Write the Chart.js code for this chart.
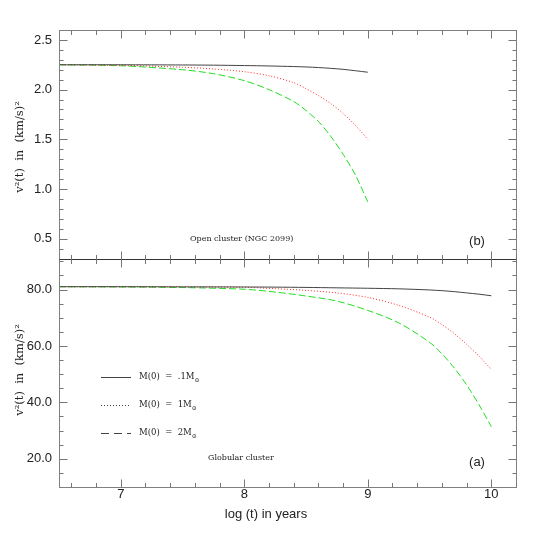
<!DOCTYPE html>
<html>
<head>
<meta charset="utf-8">
<script src="https://cdn.jsdelivr.net/npm/chart.js@4.4.1/dist/chart.umd.min.js"></script>
<style>
  html, body { margin: 0; padding: 0; background: #fff; }
</style>
</head>
<body>
<canvas id="chart" width="545" height="545"></canvas>
<script>
// log(t) values
const xOpen = [6.5, 7.0, 7.5, 7.75, 8.0, 8.2, 8.4, 8.5, 8.6, 8.7, 8.8, 8.9, 9.0];
const xGlob = [6.5, 7.0, 7.5, 8.0, 8.25, 8.5, 8.75, 9.0, 9.25, 9.5, 9.6, 9.7, 9.8, 9.9, 10.0];

// (b) open cluster NGC 2099, v^2 in (km/s)^2
const openM01 = [2.25, 2.25, 2.248, 2.246, 2.242, 2.238, 2.232, 2.228, 2.222, 2.214, 2.204, 2.19, 2.175];
const openM1  = [2.25, 2.245, 2.225, 2.208, 2.18, 2.14, 2.07, 2.01, 1.94, 1.86, 1.76, 1.64, 1.50];
const openM2  = [2.25, 2.24, 2.20, 2.16, 2.09, 2.00, 1.88, 1.79, 1.68, 1.53, 1.35, 1.14, 0.87];

// (a) globular cluster
const globM01 = [81.0, 81.0, 80.95, 80.9, 80.85, 80.75, 80.6, 80.45, 80.25, 79.85, 79.6, 79.25, 78.8, 78.35, 77.8];
const globM1  = [81.0, 81.0, 80.95, 80.8, 80.3, 79.7, 78.8, 77.2, 74.4, 70.2, 67.6, 64.4, 60.6, 56.4, 51.7];
const globM2  = [81.0, 80.9, 80.7, 80.1, 79.1, 77.7, 75.9, 72.6, 68.2, 61.3, 57.2, 52.2, 46.2, 39.2, 31.4];

const xTicks = [7, 8, 9, 10];
const openTicks = [0.5, 1.0, 1.5, 2.0, 2.5];
const globTicks = [20, 40, 60, 80];

const legendLabels = ['M(0)  =  .1M', 'M(0)  =  1M', 'M(0)  =  2M'];

const pts = (xs, ys) => xs.map((x, i) => ({ x: x, y: ys[i] }));

const solid = { borderColor: '#444', borderWidth: 1 };
const dotted = { borderColor: '#ff2a2a', borderWidth: 1, borderDash: [1, 2] };
const dashed = { borderColor: '#22dd22', borderWidth: 1, borderDash: [7, 3] };

const tickFont = { family: 'Liberation Sans', size: 13 };

// frame, inside ticks, and annotations
const framePlugin = {
    id: 'frame',
    afterDraw(chart) {
        const ctx = chart.ctx;
        const a = chart.chartArea;
        const xs = chart.scales.x;
        const yt = chart.scales.yOpen;
        const yb = chart.scales.yGlob;
        const L = Math.round(a.left) + 0.5, R = Math.round(a.right) + 0.5;
        const T = Math.round(a.top) + 0.5, B = Math.round(a.bottom) + 0.5;
        const M = Math.round(yt.bottom) + 0.5;

        ctx.save();
        ctx.lineWidth = 1;
        const line = (x1, y1, x2, y2) => {
            ctx.beginPath(); ctx.moveTo(x1, y1); ctx.lineTo(x2, y2); ctx.stroke();
        };

        ctx.strokeStyle = '#808080';
        ctx.strokeRect(L, T, R - L, B - T);
        ctx.strokeStyle = '#333';
        line(L, M, R, M);

        ctx.strokeStyle = '#777';
        // x ticks on every horizontal edge
        const edges = [[T, 1], [M, -1], [M, 1], [B, -1]];
        for (let k = 0; k <= 18; k++) {
            const v = 6.6 + k * 0.2;
            if (v > 10.21) break;
            const major = Math.abs(v - Math.round(v)) < 0.01;
            const len = major ? 8 : 4.5;
            const px = Math.round(xs.getPixelForValue(v)) + 0.5;
            edges.forEach(([y, d]) => line(px, y, px, y + d * len));
        }
        // y ticks on left and right edges
        const yTicks = (scale, step, top, bottom) => {
            const n = Math.round((scale.max - scale.min) / step);
            for (let k = 0; k <= n; k++) {
                const v = scale.min + k * step;
                const major = scale.ticks.some(t => Math.abs(t.value - v) < step / 10);
                const len = major ? 8 : 4;
                const py = Math.round(scale.getPixelForValue(v)) + 0.5;
                if (py <= top + 1 || py >= bottom - 1) continue;
                line(L, py, L + len, py);
                line(R, py, R - len, py);
            }
        };
        yTicks(yt, 0.1, T, M);
        yTicks(yb, 5, M, B);

        // y titles
        ctx.fillStyle = '#222';
        ctx.font = '11.5px "DejaVu Serif"';
        ctx.textAlign = 'center';
        ctx.textBaseline = 'middle';
        [147, 370].forEach(cy => {
            ctx.save();
            ctx.translate(20, cy);
            ctx.rotate(-Math.PI / 2);
            ctx.fillText('v\u00b2(t)  in  (km/s)\u00b2', 0, 0);
            ctx.restore();
        });

        // x title
        ctx.font = '13px "Liberation Sans"';
        ctx.fillText('log (t) in years', 266, 514);

        // panel letters
        ctx.fillText('(b)', 477, 241);
        ctx.fillText('(a)', 477, 462);

        // panel notes
        ctx.textAlign = 'left';
        ctx.font = '8px "DejaVu Serif"';
        ctx.fillText('Open cluster (NGC 2099)', 190, 239);
        ctx.fillText('Globular cluster', 208, 458);

        // legend
        const styles = [[], [1, 2], [8, 5]];
        const rows = [377, 405, 433];
        rows.forEach((y, i) => {
            ctx.strokeStyle = '#444';
            ctx.setLineDash(styles[i]);
            line(101, y + 0.5, 131, y + 0.5);
            ctx.setLineDash([]);
            ctx.font = '8.5px "DejaVu Serif"';
            ctx.fillText(legendLabels[i], 139, y);
            const w = ctx.measureText(legendLabels[i]).width;
            ctx.font = '6px "DejaVu Serif"';
            ctx.fillText('\u2299', 139 + w, y + 3);
        });
        ctx.restore();
    }
};

const ctx = document.getElementById('chart').getContext('2d');
const chart = new Chart(ctx, {
    type: 'line',
    data: {
        datasets: [
            { data: pts(xOpen, openM01), yAxisID: 'yOpen', ...solid },
            { data: pts(xOpen, openM1), yAxisID: 'yOpen', ...dotted },
            { data: pts(xOpen, openM2), yAxisID: 'yOpen', ...dashed },
            { data: pts(xGlob, globM01), yAxisID: 'yGlob', ...solid },
            { data: pts(xGlob, globM1), yAxisID: 'yGlob', ...dotted },
            { data: pts(xGlob, globM2), yAxisID: 'yGlob', ...dashed },
        ],
    },
    options: {
        responsive: false,
        animation: false,
        layout: { padding: { top: 30, right: 29, bottom: 0, left: 0 } },
        elements: {
            point: { radius: 0 },
            line: { tension: 0.3, fill: false },
        },
        plugins: {
            legend: { display: false },
            tooltip: { enabled: false },
        },
        scales: {
            x: {
                type: 'linear',
                min: 6.5,
                max: 10.2,
                grid: { display: false, drawTicks: false },
                border: { display: false },
                afterBuildTicks: s => { s.ticks = xTicks.map(v => ({ value: v })); },
                afterFit: s => { s.height = 58; },
                ticks: { padding: 0, color: '#222', font: tickFont, maxRotation: 0 },
            },
            yGlob: {
                type: 'linear',
                position: 'left',
                stack: 'v',
                stackWeight: 1,
                min: 10,
                max: 91,
                grid: { display: false, drawTicks: false },
                border: { display: false },
                afterBuildTicks: s => { s.ticks = globTicks.map(v => ({ value: v })); },
                afterFit: s => { s.width = 59; },
                ticks: { padding: 7, color: '#222', font: tickFont, callback: v => v.toFixed(1) },
            },
            yOpen: {
                type: 'linear',
                position: 'left',
                stack: 'v',
                stackWeight: 1,
                min: 0.3,
                max: 2.6,
                grid: { display: false, drawTicks: false },
                border: { display: false },
                afterBuildTicks: s => { s.ticks = openTicks.map(v => ({ value: v })); },
                afterFit: s => { s.width = 59; },
                ticks: { padding: 7, color: '#222', font: tickFont, callback: v => v.toFixed(1) },
            },
        },
    },
    plugins: [framePlugin],
});
</script>
</body>
</html>
